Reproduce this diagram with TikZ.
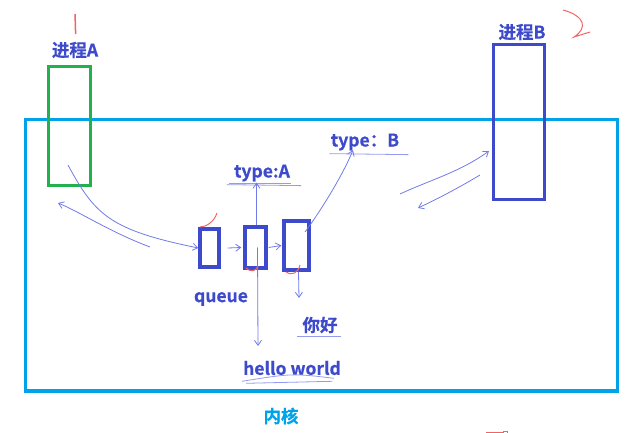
\documentclass[tikz,border=0pt]{standalone}
\usepackage{fontspec}
\setmainfont{Noto Sans CJK SC}[BoldFont={Noto Sans CJK SC Bold}, BoldFeatures={FakeBold=0.6}]
\usepackage{xcolor}
\definecolor{kblue}{RGB}{62,74,204}
\definecolor{kcyan}{RGB}{0,162,232}
\definecolor{kgreen}{RGB}{34,177,76}
\definecolor{kpen}{RGB}{112,122,232}
\definecolor{kred}{RGB}{240,100,100}
\usetikzlibrary{
  arrows.meta,
  positioning,
  calc
}

\begin{document}
\begin{tikzpicture}[
  x=1pt, y=-1pt,
  box/.style={
    draw, line width=3pt, minimum width=#1, inner sep=0pt,
  },
  procbox/.style={box=#1, draw=kblue},
  qbox/.style={box=#1, draw=kblue, line width=3.4pt},
  lbl/.style={font=\fontsize{17.5}{19}\selectfont\bfseries, text=kblue, inner sep=1pt},
  pen/.style={kpen, line width=0.8pt},
  uline/.style={kpen!75, line width=0.8pt},
  penarr/.style={pen, -{Straight Barb[length=5pt, width=7pt]}},
  redmark/.style={kred, line width=1pt},
]
\useasboundingbox (0,0) rectangle (633,433);

% Kernel frame
\node[box=592pt, minimum height=271pt, draw=kcyan] (kernel) at (321,255.5) {};
\node[lbl, text=kcyan] (kname) at (281,416) {内核};

% Processes
\node[box=42pt, minimum height=119pt, draw=kgreen] (procA) at (69,126.5) {};
\node[lbl] (nameA) at (75,50) {进程A};
\node[procbox=51pt, minimum height=155pt] (procB) at (518.5,122.5) {};
\node[lbl] (nameB) at (522,32) {进程B};

% Queue entries
\node[qbox=19pt, minimum height=38pt] (q1) at (209.5,248) {};
\node[qbox=21pt, minimum height=41pt] (q2) at (255.5,247.5) {};
\node[qbox=25pt, minimum height=49pt] (q3) at (296.5,245.5) {};

% Labels
\node[lbl] (queue) at (221,299) {queue};
\node[lbl] (typeA) at (262,173) {type:A};
\node[lbl] (typeB) at (365,142) {type：B};
\node[lbl] (hello) at (320,325) {你好};
\node[lbl] (world) at (292,368) {hello world};

% Underlines
\draw[uline] ([xshift=-6pt,yshift=-2pt]typeA.south west) -- ([xshift=10pt,yshift=-3pt]typeA.south east);
\draw[uline] ([xshift=-4pt,yshift=-1pt]typeA.south west) -- ([xshift=0pt,yshift=-1pt]typeA.south east);
\draw[uline] ([xshift=0pt,yshift=-2pt]typeB.south west) -- ([xshift=8pt,yshift=-3pt]typeB.south east);
\draw[uline] ([xshift=-4pt,yshift=-2pt]hello.south west) -- ([xshift=2pt,yshift=-2pt]hello.south east);
\draw[uline] ([xshift=0pt,yshift=-5pt]world.south west) .. controls ($(world.south)+(0,-3)$) .. ([xshift=-8pt,yshift=-2pt]world.south east);
\draw[uline] ([xshift=4pt,yshift=-7pt]world.south west) -- ([xshift=-10pt,yshift=-5pt]world.south east);

% Free ends of the sketched arrows
\coordinate (a0) at (68,165);
\coordinate (a1) at (150,247);
\coordinate (a2) at (58,203);
\coordinate (b0) at (400,194);
\coordinate (b1) at (489,151);
\coordinate (b2) at (480,175);
\coordinate (b3) at (418,208);
\coordinate (w0) at (258,346);
\coordinate (h0) at (299,298);
\coordinate (t0) at (305,232);
\coordinate (t1) at (353,150);

% Process A <-> queue
\draw[penarr] (a0) .. controls (95,215) and (110,230) .. (q1.west);
\draw[penarr] (a1) .. controls (110,232) and (80,212) .. (a2);

% Along the queue
\draw[penarr] ([xshift=7pt]q1.east) -- ([xshift=-2pt]q2.west);
\draw[penarr] ([xshift=1pt]q2.east) -- ([xshift=-1pt]q3.west);
\draw[penarr] ([xshift=1pt]q2.north) -- ([xshift=1pt]q2.north |- typeA.south);
\draw[penarr] ([xshift=2pt]q2.center) -- (w0);
\draw[penarr] ([xshift=2pt]q3.south) -- (h0);
\draw[penarr] (t0) .. controls (325,205) and (345,170) .. (t1);

% Queue <-> process B
\draw[penarr] (b0) .. controls (430,180) and (460,172) .. (b1);
\draw[penarr] (b2) .. controls (455,190) and (435,200) .. (b3);

% Red marks
\draw[redmark, line width=1.5pt] (75,14) .. controls (75.3,22) .. (75.6,34);
\draw[redmark] (563,10) .. controls (585,16) and (588,28) .. (574,37) -- (590,32);
\draw[redmark] (200,227) .. controls (206,227) and (214,222) .. (217,213);
\draw[redmark] (246,268) .. controls (250,272) and (256,272) .. (258,266);
\draw[redmark] (286,272) .. controls (292,276) and (298,273) .. (300,265);
\draw[redmark] (486,432) -- (503,432) -- (503,431) -- (507,431) -- (507,433);

\end{tikzpicture}
\end{document}
